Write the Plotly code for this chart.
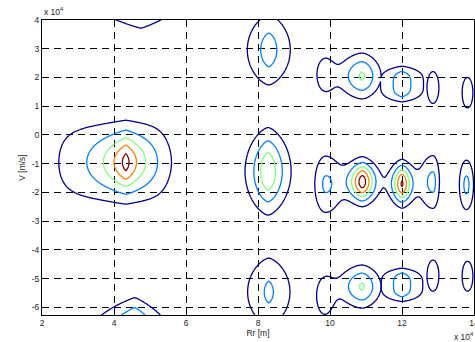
import numpy as np
import plotly.graph_objects as go

# ---- data (units of 1e4) ----
# components of the ambiguity surface: centre (Rr, V), peak value, left/right x-width,
# x exponent, y-width, y exponent, merge group
peak_x  = [4.33, 4.33, 4.75, 4.58, 8.28, 8.30, 8.30, 9.88, 10.90, 12.00, 12.86, 13.79, 9.85, 10.89, 12.00, 12.86, 13.82, 9.85, 10.89, 12.00, 12.86, 13.82]
peak_y  = [-0.95, -0.95, 5.20, -7.15, -1.27, 2.96, -5.47, -1.72, -1.63, -1.70, -1.64, -1.74, 2.10, 2.05, 1.77, 1.65, 1.47, -5.65, -5.28, -5.22, -4.90, -4.92]
peak_a  = [0.70, 0.20, 0.90, 0.90, 0.64, 0.41, 0.36, 0.35, 0.92, 0.845, 0.374, 0.37, 0.24, 0.518, 0.45, 0.30, 0.30, 0.26, 0.515, 0.45, 0.30, 0.30]
peak_wl = [0.727, 2.3, 1.10, 0.85, 0.525, 0.64, 0.70, 0.35, 0.38, 0.291, 0.39, 0.22, 0.30, 0.62, 0.60, 0.215, 0.195, 0.30, 0.62, 0.58, 0.215, 0.195]
peak_wr = [0.65, 1.32, 0.88, 0.65, 0.525, 0.64, 0.70, 0.48, 0.366, 0.291, 0.20, 0.22, 0.30, 0.49, 0.60, 0.215, 0.195, 0.30, 0.49, 0.58, 0.215, 0.195]
peak_px = [1.15, 4, 1.1, 1.1, 1.5, 1.5, 1.5, 2.0, 1.6, 1.6, 2.0, 2.0, 2.0, 1.65, 1.34, 2.0, 2.0, 2.0, 1.65, 1.34, 2.0, 2.0]
peak_sy = [0.67, 1.61, 0.81, 0.81, 0.93, 0.91, 0.95, 0.80, 0.47, 0.47, 0.72, 0.68, 0.55, 0.53, 0.62, 0.51, 0.49, 0.60, 0.50, 0.58, 0.50, 0.48]
peak_py = [2, 4, 2, 2, 2, 2, 2, 2, 2, 2, 2, 2, 2, 2, 3.5, 2, 2, 2, 2, 3.5, 2, 2]
peak_grp = [0, 0, 1, 2, 3, 4, 5, 6, 6, 6, 6, 7, 8, 8, 9, 10, 11, 12, 12, 13, 14, 15]

levels = [1/6, 2/6, 3/6, 4/6, 5/6]
x_ticks = [2, 4, 6, 8, 10, 12, 14]
y_ticks = [-6, -5, -4, -3, -2, -1, 0, 1, 2, 3, 4]

xs = np.arange(1.9, 14.11, 0.02)
ys = np.arange(-6.4, 4.11, 0.02)
X, Y = np.meshgrid(xs, ys)

groups = {}
for i in range(len(peak_x)):
    dx = X - peak_x[i]
    w = np.where(dx < 0, peak_wl[i], peak_wr[i])
    fx = np.exp(-(np.abs(dx) / w) ** peak_px[i])
    ty = (np.abs(Y - peak_y[i]) / peak_sy[i]) ** peak_py[i]
    fy = np.exp(-ty / 2) if peak_py[i] == 2 else np.exp(-ty)
    g = peak_grp[i]
    groups[g] = groups.get(g, 0) + peak_a[i] * fx * fy
Z = np.max(np.stack(list(groups.values())), axis=0)
Z = np.round(Z, 4)

jet = [[0.0, "rgb(0,0,143)"], [0.25, "rgb(0,128,255)"], [0.5, "rgb(128,255,128)"],
       [0.75, "rgb(255,128,0)"], [1.0, "rgb(128,0,0)"]]

fig = go.Figure(go.Contour(
    x=xs, y=ys, z=Z,
    contours=dict(coloring="lines", start=levels[0], end=levels[-1] + 1e-3, size=levels[1] - levels[0]),
    colorscale=jet, zmin=levels[0], zmax=levels[-1], zauto=False,
    line=dict(width=1.3), showscale=False, hoverinfo="skip",
))

font = dict(family="Liberation Sans, Arial, sans-serif", size=8.5, color="#222")
ax = dict(showline=True, linecolor="black", linewidth=1.2, mirror=True,
          showgrid=True, gridcolor="black", gridwidth=1, griddash="7px,5px",
          ticks="inside", ticklen=3, tickcolor="black", zeroline=False, tickfont=font,
          automargin=False, ticklabeloverflow="allow")

fig.update_layout(
    width=475, height=342,
    margin=dict(l=42, r=1, t=20, b=27, autoexpand=False),
    paper_bgcolor="white", plot_bgcolor="white",
    xaxis=dict(range=[2, 14], tickvals=x_ticks, ticktext=[str(v) for v in x_ticks],
               title=dict(text="Rr [m]", font=font, standoff=2), **ax),
    yaxis=dict(range=[-6.27, 4], tickvals=y_ticks, ticktext=[str(v) for v in y_ticks],
               title=dict(text="V [m/s]", font=font, standoff=4), **ax),
    annotations=[
        dict(text="x 10<sup>4</sup>", xref="paper", yref="paper", x=0, y=1, xanchor="left",
             yanchor="bottom", yshift=1, showarrow=False, font=font),
        dict(text="x 10<sup>4</sup>", xref="paper", yref="paper", x=1, y=0, xanchor="right",
             yanchor="top", yshift=-14, xshift=2, showarrow=False, font=font),
    ],
)
fig.write_html("out.html", config={"displayModeBar": False},
               post_script="document.body.style.margin='0';document.body.style.overflow='hidden';")
